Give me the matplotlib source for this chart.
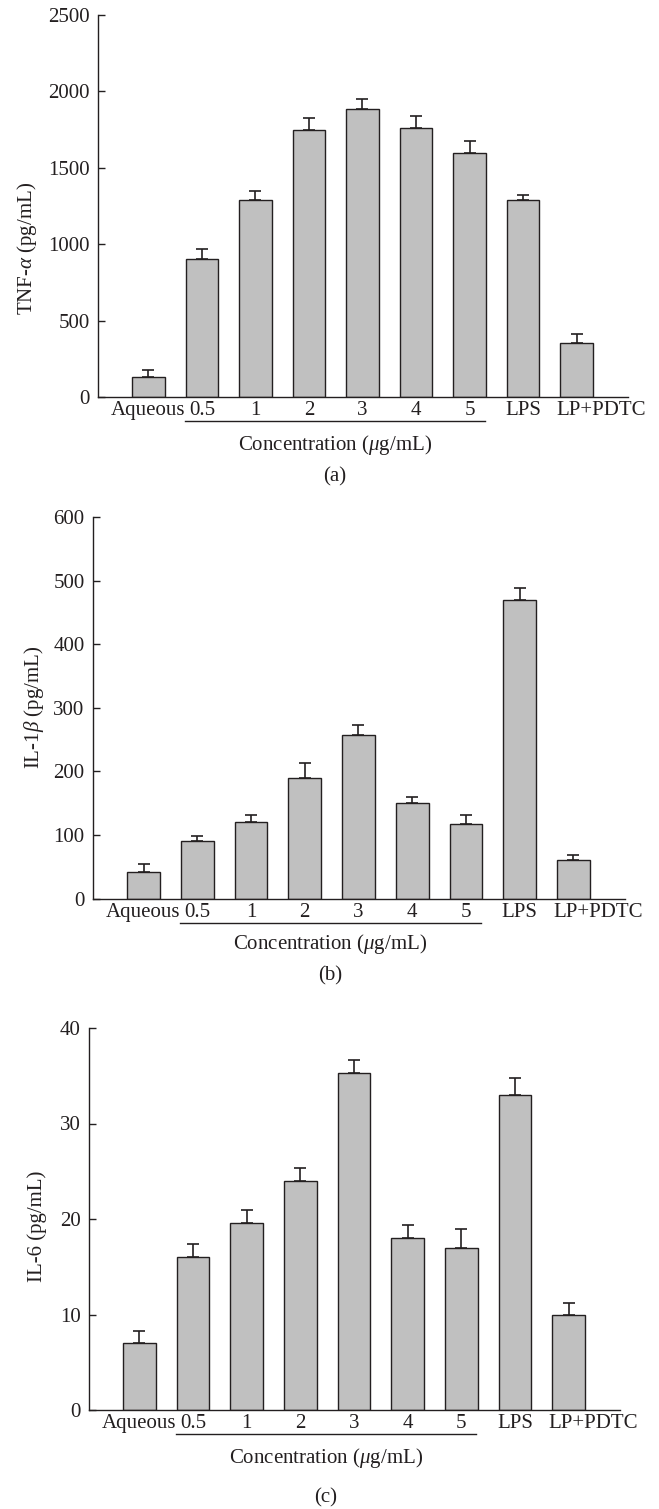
import numpy as np
import matplotlib
matplotlib.use('Agg')
import matplotlib.pyplot as plt
from matplotlib.transforms import ScaledTranslation

plt.rcParams['font.family'] = ['Liberation Serif', 'DejaVu Serif']
plt.rcParams['mathtext.fontset'] = 'custom'
plt.rcParams['mathtext.rm'] = 'Liberation Serif'
plt.rcParams['mathtext.it'] = 'Liberation Serif:italic'

INK = '#231f20'
BAR = '#c0c0c0'
FS = 15

# data
groups = ['Aqueous', '0.5', '1', '2', '3', '4', '5', 'LPS', 'LP+PDTC']

tnf_vals = [133, 905, 1290, 1750, 1887, 1763, 1600, 1290, 355]
tnf_err = [45, 64, 60, 78, 60, 78, 77, 35, 57]

il1b_vals = [42, 90, 120, 190, 257, 150, 117, 470, 60]
il1b_err = [12, 8, 11, 23, 16, 9, 15, 19, 9]

il6_vals = [7.0, 16.0, 19.6, 24.0, 35.3, 18.0, 17.0, 33.0, 10.0]
il6_err = [1.3, 1.4, 1.3, 1.3, 1.3, 1.4, 2.0, 1.8, 1.25]

ylabels = ['TNF-$\\alpha$ (pg/mL)', 'IL-1$\\beta$ (pg/mL)', 'IL-6 (pg/mL)']
ymax = [2500, 600, 40]
ystep = [500, 100, 10]
tags = ['(a)', '(b)', '(c)']

W, H = 659, 1509
# [left, bottom, width, height] in pixels
boxes = [(98, 1112, 530, 382), (93, 610.5, 532, 381.5), (89, 99, 531, 382)]
ylab_pos = [(-0.111, 0.39), (-0.089, 0.5), (-0.080, 0.48)]
xlab_y = [-0.126, -0.119, -0.125]
tag_y = [-0.209, -0.203, -0.23]

fig = plt.figure(figsize=(W / 100, H / 100), dpi=100)

series = [(tnf_vals, tnf_err), (il1b_vals, il1b_err), (il6_vals, il6_err)]
x = np.arange(len(groups))

for i, (vals, err) in enumerate(series):
    l, b, w, h = boxes[i]
    ax = fig.add_axes([l / W, b / H, w / W, h / H])
    ax.bar(x, vals, width=0.61, color=BAR, edgecolor=INK, linewidth=1.0,
           yerr=[np.zeros(len(err)), err], capsize=4,
           error_kw=dict(ecolor=INK, elinewidth=1.2, capthick=1.2))
    ax.set_xlim(-0.94, 8.96)
    ax.set_ylim(0, ymax[i])
    ax.set_yticks(np.arange(0, ymax[i] + 1, ystep[i]))
    ax.set_xticks(x)
    ax.set_xticklabels(groups)
    ax.tick_params(axis='x', length=0, pad=3, labelsize=FS, colors=INK)
    ax.tick_params(axis='y', direction='in', length=5, width=1.0, pad=6,
                   labelsize=FS, colors=INK)
    # last label sits to the right of its bar
    last = ax.get_xticklabels()[-1]
    last.set_ha('left')
    last.set_transform(last.get_transform() +
                       ScaledTranslation(-0.2, 0, fig.dpi_scale_trans))
    for s in ['top', 'right']:
        ax.spines[s].set_visible(False)
    for s in ['left', 'bottom']:
        ax.spines[s].set_linewidth(1.0)
        ax.spines[s].set_color(INK)

    ax.set_ylabel(ylabels[i], fontsize=FS, color=INK)
    ax.yaxis.set_label_coords(*ylab_pos[i])

    # line under the concentration group
    trans = ax.get_xaxis_transform()
    ax.plot([0.68, 6.28], [-0.063, -0.063], transform=trans, color=INK,
            linewidth=1.0, clip_on=False)
    mid = (0.68 + 6.28) / 2
    ax.text(mid, xlab_y[i], 'Concentration ($\\mu$g/mL)', transform=trans,
            ha='center', va='center', fontsize=FS, color=INK)
    ax.text(mid, tag_y[i], tags[i], transform=trans,
            ha='center', va='center', fontsize=FS, color=INK)

fig.savefig('out.png', dpi=100)
